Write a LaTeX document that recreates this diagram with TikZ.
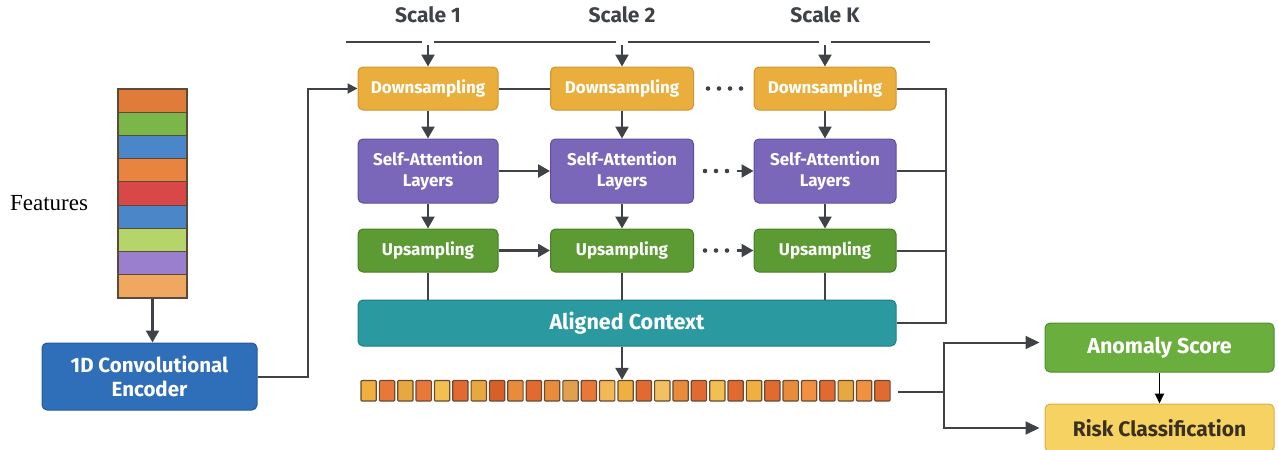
\documentclass[tikz,border=0pt]{standalone}
\usepackage{fontspec}
\setmainfont{Fira Sans}
\newfontfamily\serifft{Liberation Serif}
\usetikzlibrary{arrows.meta}
\definecolor{lc}{HTML}{3F4347}
\definecolor{dsf}{HTML}{E9AE3C}\definecolor{dsd}{HTML}{D09530}
\definecolor{saf}{HTML}{7B67B9}\definecolor{sad}{HTML}{5F4F9A}
\definecolor{upf}{HTML}{5C9A34}\definecolor{upd}{HTML}{487C28}
\definecolor{acf}{HTML}{2A9AA0}\definecolor{acd}{HTML}{1F7E84}
\definecolor{enf}{HTML}{2F6EB8}\definecolor{encd}{HTML}{245A98}
\definecolor{asf}{HTML}{6AAE3E}\definecolor{asd}{HTML}{4E8E2C}
\definecolor{rcf}{HTML}{F6D262}\definecolor{rcd}{HTML}{D8B040}
\definecolor{rct}{HTML}{3A3020}
\definecolor{celld}{HTML}{5A4A3A}
\definecolor{tokd}{HTML}{6A4A30}
\definecolor{f1}{HTML}{E07B39}\definecolor{f2}{HTML}{7AB648}\definecolor{f3}{HTML}{4A86C8}
\definecolor{f4}{HTML}{E88440}\definecolor{f5}{HTML}{D94848}\definecolor{f6}{HTML}{4A86C8}
\definecolor{f7}{HTML}{B5D46A}\definecolor{f8}{HTML}{9B7FCF}\definecolor{f9}{HTML}{F0A860}
\definecolor{ta}{HTML}{F0B040}\definecolor{tb}{HTML}{E8783A}\definecolor{tc}{HTML}{E8A840}
\definecolor{td}{HTML}{F2C050}\definecolor{te}{HTML}{E06A30}\definecolor{tf}{HTML}{D86028}
\definecolor{tg}{HTML}{E88C3C}\definecolor{th}{HTML}{E0A050}\definecolor{ti}{HTML}{F2B858}
\definecolor{tj}{HTML}{F2C060}\definecolor{tk}{HTML}{F09040}
\begin{document}
\begin{tikzpicture}[x=1pt,y=-1pt,
  line/.style={draw=lc, line width=2pt},
  arr/.style={draw=lc, line width=2.4pt, -{Triangle[length=12pt,width=13pt]}},
  box/.style={rounded corners=5pt, line width=1pt, text=white, align=center, inner sep=0pt,
    font=\bfseries\fontsize{17}{21}\selectfont},
  dsbox/.style={box, fill=dsf, draw=dsd, minimum height=43pt},
  sabox/.style={box, fill=saf, draw=sad, minimum height=64pt},
  upbox/.style={box, fill=upf, draw=upd, minimum height=43pt},
  scalelbl/.style={text=lc, font=\bfseries\fontsize{21}{24}\selectfont},
  dots/.style={draw=lc, line width=4.6pt, line cap=round, dash pattern=on 0pt off 11pt}
]
\useasboundingbox (0,0) rectangle (1278,450);

% features
\node[font=\serifft\fontsize{23}{26}\selectfont, text=black] (ftxt) at (49,203) {Features};
\foreach \c [count=\i] in {f1,f2,f3,f4,f5,f6,f7,f8,f9}
  \draw[fill=\c, draw=celld, line width=1pt] (118,{89+(\i-1)*23.2}) rectangle ++(69,23.2);
\node[draw=celld, line width=1.4pt, minimum width=69pt, minimum height=208.8pt, inner sep=0pt] (feat) at (152.5,193.4) {};

% encoder
\node[box, fill=enf, draw=encd, minimum width=215pt, minimum height=67pt,
  font=\bfseries\fontsize{20.5}{24}\selectfont] (enc) at (149.5,376.5) {1D Convolutional\\Encoder};
\draw[arr] (feat.south) -- (feat.south |- enc.north);

% scale labels
\node[scalelbl] (s1) at (428,15) {Scale 1};
\node[scalelbl] (s2) at (622,15) {Scale 2};
\node[scalelbl] (s3) at (825,15) {Scale K};

% downsampling
\node[dsbox, minimum width=140pt] (ds1) at (428,88.5) {Downsampling};
\node[dsbox, minimum width=143pt] (ds2) at (622,88.5) {Downsampling};
\node[dsbox, minimum width=142pt] (ds3) at (825,88.5) {Downsampling};

% self-attention
\node[sabox, minimum width=140pt] (sa1) at (428,171) {Self-Attention\\Layers};
\node[sabox, minimum width=143pt] (sa2) at (622,171) {Self-Attention\\Layers};
\node[sabox, minimum width=142pt] (sa3) at (825,171) {Self-Attention\\Layers};

% upsampling
\node[upbox, minimum width=140pt] (up1) at (428,250.5) {Upsampling};
\node[upbox, minimum width=143pt] (up2) at (622,250.5) {Upsampling};
\node[upbox, minimum width=142pt] (up3) at (825,250.5) {Upsampling};

% aligned context
\node[box, fill=acf, draw=acd, minimum width=538pt, minimum height=46pt,
  font=\bfseries\fontsize{21.5}{24}\selectfont] (ac) at (627,323) {Aligned Context};

% top scale line
\coordinate (tl) at (346,42);
\coordinate (tr) at (930,42);
\draw[line] (tl) -- ([xshift=-6pt]s1.south |- tl);
\draw[line] ([xshift=6pt]s1.south |- tl) -- ([xshift=-6pt]s2.south |- tl);
\draw[line] ([xshift=6pt]s2.south |- tl) -- ([xshift=-6pt]s3.south |- tl);
\draw[line] ([xshift=6pt]s3.south |- tl) -- (tr);
\draw[arr] ([yshift=-3pt]s1.south |- tl) -- (s1.south |- ds1.north);
\draw[arr] ([yshift=-3pt]s2.south |- tl) -- (s2.south |- ds2.north);
\draw[arr] ([yshift=-3pt]s3.south |- tl) -- (s3.south |- ds3.north);

% encoder to ds1
\coordinate (bend) at (308,377);
\draw[line, -{Triangle[length=10pt,width=10pt]}] (enc.east |- bend) -- (bend) |- (ds1.west);

% ds row links
\draw[line] (ds1.east) -- (ds2.west);
\draw[dots] ([xshift=14pt]ds2.east) -- ([xshift=-8pt]ds3.west);

% vertical arrows
\foreach \a/\b in {ds1/sa1,ds2/sa2,ds3/sa3,sa1/up1,sa2/up2,sa3/up3}
  \draw[arr] (\a.south) -- (\b.north);
\foreach \a in {up1,up2,up3}
  \draw[line] (\a.south) -- (\a.south |- ac.north);

% horizontal arrows
\draw[arr] (sa1.east) -- (sa2.west);
\draw[arr] (up1.east) -- (up2.west);
\draw[dots] ([xshift=11pt]sa2.east) -- ([xshift=-20pt]sa3.west);
\draw[dots] ([xshift=11pt]up2.east) -- ([xshift=-20pt]up3.west);
\draw[arr] ([xshift=-17pt]sa3.west) -- (sa3.west);
\draw[arr] ([xshift=-17pt]up3.west) -- (up3.west);

% right bus
\coordinate (bus) at (946,88);
\draw[line] (ds3.east) -- (ds3.east -| bus) -- (bus |- ac.east) -- (ac.east);
\draw[line] (sa3.east) -- (sa3.east -| bus);
\draw[line] (up3.east) -- (up3.east -| bus);

% tokens
\foreach \c [count=\i] in {ta,tb,tc,tb,td,te,tc,tf,tg,te,tg,th,tb,ti,ta,te,tj,tg,te,td,te,ta,te,tg,tk,te,tc,tk,te}
  \draw[fill=\c, draw=tokd, line width=1.2pt, rounded corners=1pt] ({361+(\i-1)*18.35},380.5) rectangle ++(15.3,20.5);
\node[minimum width=531pt, minimum height=21pt, inner sep=0pt] (tok) at (626,390.5) {};
\draw[arr] (ac.south -| s2.south) -- (tok.north -| s2.south);

% outputs
\node[box, fill=asf, draw=asd, minimum width=229pt, minimum height=49pt,
  font=\bfseries\fontsize{21.5}{24}\selectfont] (as) at (1159.5,347.5) {Anomaly Score};
\node[box, fill=rcf, draw=rcd, text=rct, minimum width=229pt, minimum height=48pt,
  font=\bfseries\fontsize{21}{24}\selectfont] (rc) at (1159.5,428) {Risk Classification};
\draw[line width=1.8pt, draw=black, -{Triangle[length=10pt,width=9pt]}] (as.south) -- (rc.north);

\coordinate (fork) at (944,392);
\draw[line] ([xshift=6pt]tok.east |- fork) -- (fork);
\draw[line, -{Triangle[length=14pt,width=13pt]}] (fork) |- ([xshift=-5pt,yshift=5pt]as.west);
\draw[line, -{Triangle[length=14pt,width=13pt]}] (fork) |- ([xshift=-5pt]rc.west);
\end{tikzpicture}
\end{document}
